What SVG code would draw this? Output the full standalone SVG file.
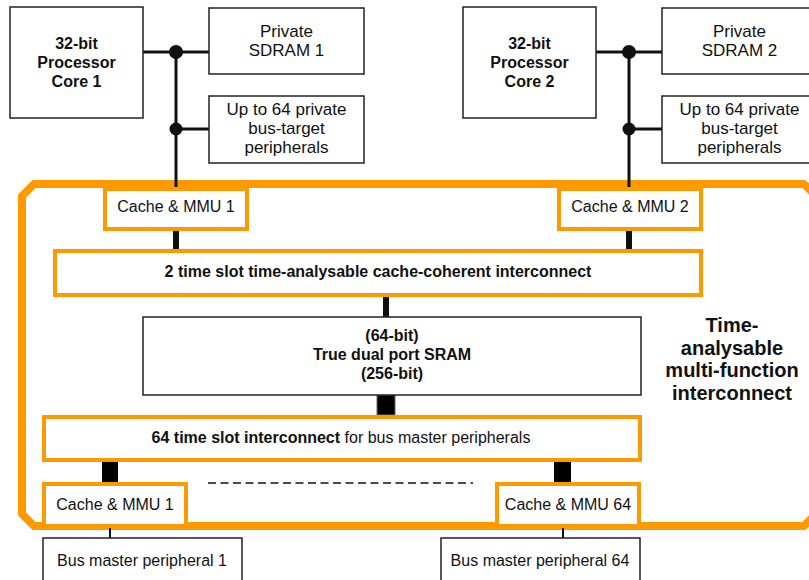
<svg xmlns="http://www.w3.org/2000/svg" width="809" height="580" viewBox="0 0 809 580">
<style>
.box{fill:#fff;stroke:#222;stroke-width:1.5}
.obox{fill:#fff;stroke:#ff9900;stroke-width:4}
.bus{stroke:#111;stroke-width:3;fill:none}
.t{font-family:"Liberation Sans",Arial,sans-serif;fill:#111;text-anchor:middle}
.r16{font-size:16px}
.r17{font-size:17px}
.b16{font-size:16px;font-weight:bold}
.b20{font-size:20px;font-weight:bold}
</style>
<rect width="809" height="580" fill="#fff"/>
<g id="frame">
<path d="M34 184 H804 L816 196 V514 L804 526 H34 L22 514 V196 Z" fill="none" stroke="#ff9900" stroke-width="8" stroke-linejoin="round"/>
<text class="t b20" x="732" y="332">Time-</text>
<text class="t b20" x="732" y="355">analysable</text>
<text class="t b20" x="732" y="377">multi-function</text>
<text class="t b20" x="732" y="400">interconnect</text>
</g>
<g id="connectors">
<path class="bus" d="M143 52 H209 M176 52 V187 M176 129 H209"/>
<circle cx="176" cy="52" r="7" fill="#111"/>
<circle cx="176" cy="129" r="6.5" fill="#111"/>
<path class="bus" d="M596 52 H662 M629 52 V187 M629 129 H662"/>
<circle cx="629" cy="52" r="7" fill="#111"/>
<circle cx="629" cy="129" r="6.5" fill="#111"/>
<rect x="173" y="231" width="6" height="18" fill="#111"/>
<rect x="626" y="231" width="6" height="18" fill="#111"/>
<rect x="383" y="297" width="6" height="20" fill="#111"/>
<rect x="377" y="395" width="18" height="20" fill="#000" stroke="#666" stroke-width="1"/>
<rect x="102" y="462" width="16" height="20" fill="#000"/>
<rect x="554" y="462" width="17" height="20" fill="#000"/>
<line x1="208" y1="483" x2="473" y2="483" stroke="#111" stroke-width="1.5" stroke-dasharray="8 4.5"/>
<line x1="110" y1="528" x2="110" y2="538" stroke="#111" stroke-width="2"/>
<line x1="563" y1="528" x2="563" y2="538" stroke="#111" stroke-width="2"/>
</g>
<g id="core1">
<rect class="box" x="10" y="7" width="133" height="111"/>
<text class="t b16" x="76.5" y="49">32-bit</text>
<text class="t b16" x="76.5" y="68">Processor</text>
<text class="t b16" x="76.5" y="87">Core 1</text>
</g>
<g id="sdram1">
<rect class="box" x="209" y="8" width="155" height="66"/>
<text class="t r17" x="286.5" y="37">Private</text>
<text class="t r17" x="286.5" y="56">SDRAM 1</text>
</g>
<g id="periph1">
<rect class="box" x="209" y="96" width="155" height="67"/>
<text class="t r17" x="286.5" y="115">Up to 64 private</text>
<text class="t r17" x="286.5" y="134">bus-target</text>
<text class="t r17" x="286.5" y="153">peripherals</text>
</g>
<g id="core2">
<rect class="box" x="463" y="7" width="133" height="111"/>
<text class="t b16" x="529.5" y="49">32-bit</text>
<text class="t b16" x="529.5" y="68">Processor</text>
<text class="t b16" x="529.5" y="87">Core 2</text>
</g>
<g id="sdram2">
<rect class="box" x="662" y="8" width="155" height="66"/>
<text class="t r17" x="739.5" y="37">Private</text>
<text class="t r17" x="739.5" y="56">SDRAM 2</text>
</g>
<g id="periph2">
<rect class="box" x="662" y="96" width="155" height="67"/>
<text class="t r17" x="739.5" y="115">Up to 64 private</text>
<text class="t r17" x="739.5" y="134">bus-target</text>
<text class="t r17" x="739.5" y="153">peripherals</text>
</g>
<g id="cache1">
<rect class="obox" x="105" y="189" width="142" height="40"/>
<text class="t r16" x="176" y="212">Cache &amp; MMU 1</text>
</g>
<g id="cache2">
<rect class="obox" x="559" y="189" width="142" height="40"/>
<text class="t r16" x="630" y="212">Cache &amp; MMU 2</text>
</g>
<g id="interconnect2">
<rect class="obox" x="55" y="251" width="646" height="44"/>
<text class="t b16" x="378" y="277">2 time slot time-analysable cache-coherent interconnect</text>
</g>
<g id="sram">
<rect class="box" x="143" y="317" width="498" height="78"/>
<text class="t b16" x="392" y="341">(64-bit)</text>
<text class="t b16" x="392" y="360">True dual port SRAM</text>
<text class="t b16" x="392" y="379">(256-bit)</text>
</g>
<g id="interconnect64">
<rect class="obox" x="44" y="417" width="596" height="43"/>
<text class="t r16" x="341" y="443"><tspan font-weight="bold">64 time slot interconnect</tspan> for bus master peripherals</text>
</g>
<g id="cacheb1">
<rect class="obox" x="44" y="484" width="142" height="42"/>
<text class="t r16" x="115" y="510">Cache &amp; MMU 1</text>
</g>
<g id="cacheb64">
<rect class="obox" x="497" y="484" width="142" height="42"/>
<text class="t r16" x="568" y="510">Cache &amp; MMU 64</text>
</g>
<g id="bm1">
<rect class="box" x="43" y="538" width="199" height="50"/>
<text class="t r16" x="142" y="566">Bus master peripheral 1</text>
</g>
<g id="bm64">
<rect class="box" x="441" y="538" width="199" height="50"/>
<text class="t r16" x="540" y="566">Bus master peripheral 64</text>
</g>
</svg>
